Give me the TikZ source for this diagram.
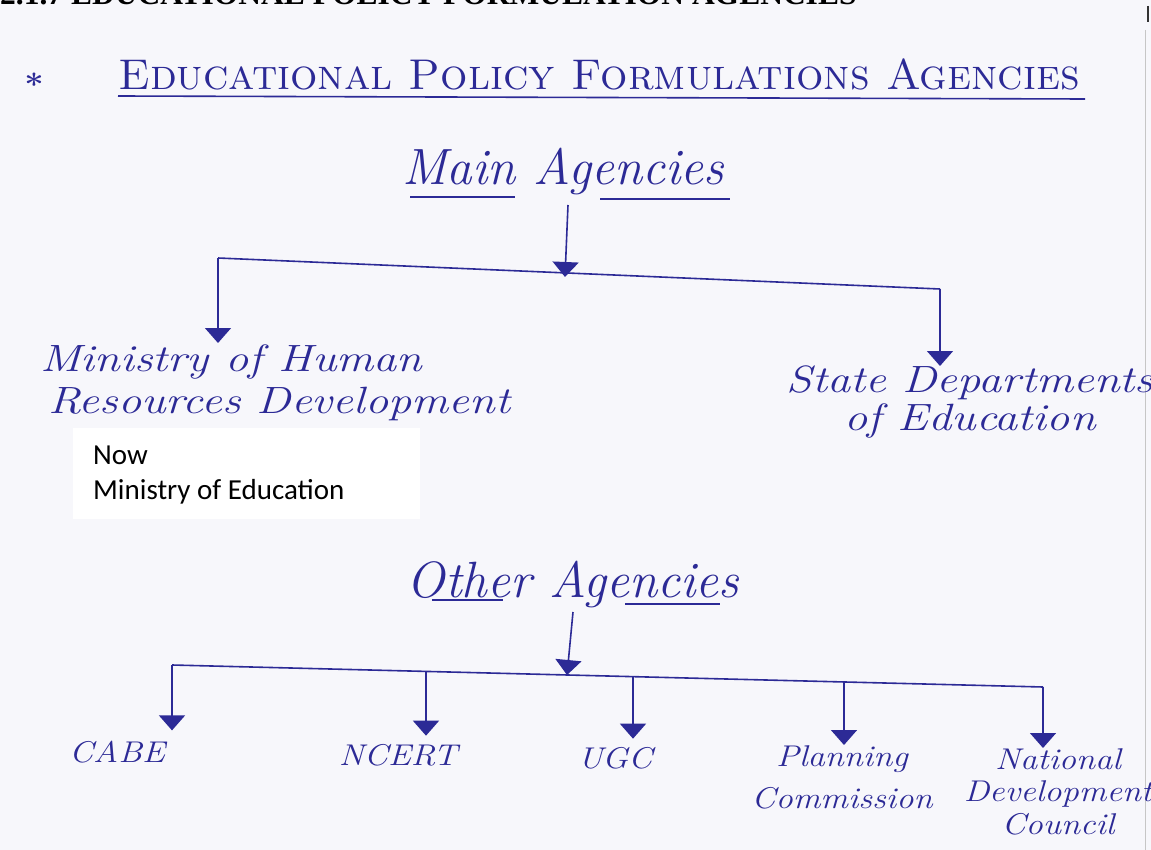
\documentclass[tikz,border=0pt]{standalone}
\usepackage{fontspec}
\newfontfamily\handface{Latin Modern Roman}
\newfontfamily\printfont{Liberation Serif}
\newfontfamily\boxfont{Carlito}
\usetikzlibrary{arrows.meta,positioning}
\definecolor{ink}{RGB}{44,42,150}
\definecolor{paper}{RGB}{247,247,251}
\newcommand\handfont[2]{\handface\itshape\fontsize{#1}{#1}\selectfont\addfontfeatures{FakeStretch=#2}\lineskiplimit=-60pt}

\begin{document}
\begin{tikzpicture}[x=1pt, y=-1pt,
    hand/.style={text=ink, inner sep=0pt, font=\handfont{30}{1.15}},
    label/.style={hand, font=\handfont{38}{1.22}},
    head/.style={hand, font=\handfont{51}{1.0}},
    wire/.style={draw=ink, line width=1.6pt},
    branch/.style={wire, -{Triangle[width=26pt,length=15pt]}}]
  \fill[paper] (0,0) rectangle (1151,850);
  \useasboundingbox (0,0) rectangle (1151,850);
  \clip (0,0) rectangle (1151,850);
  % cut heading of the page
  \node[anchor=base west, inner sep=0pt, font=\printfont\bfseries\fontsize{31.5}{32}\selectfont] (cut) at (0,5) {2.1.7 EDUCATIONAL POLICY FORMULATION AGENCIES};
  \draw[gray!45, line width=1pt] (1145,30) -- (1145,850);
  \draw[black!80, line width=2pt] (1148,6) -- (1148,22);
  % title
  \node[hand] (star) at (34,84) {\upshape\bfseries *};
  \node[hand, anchor=base west, font=\scshape\fontsize{43}{43}\selectfont] (title) at (118,90) {Educational Policy Formulations Agencies};
  \draw[wire] (118,96) -- (1085,99);
  % main agencies
  \node[head, anchor=base] (main) at (563,185) {Main Agencies};
  \draw[wire] (410,197) -- (515,197);
  \draw[wire] (600,199) -- (730,199);
  \coordinate (mtop) at (568,205);
  \coordinate (mL) at (218,258);
  \coordinate (mM) at (565,274);
  \coordinate (mR) at (940,289);
  \draw[wire] (mL) -- (mR);
  \draw[branch] (mtop) -- ([yshift=-3pt]mM);
  \node[label, anchor=north west, align=left] (mhrd) at (40,345) {Ministry of Human\\[4pt]\hspace{8pt}Resources Development};
  \node[label, anchor=north, align=center] (state) at (970,366) {State Departments\\of Education};
  \draw[branch, shorten >=2pt] (mL) -- (mL |- mhrd.north);
  \draw[branch] (mR) -- (mR |- state.north);
  % note box
  \fill[white] (73,428) rectangle (420,519);
  \node[anchor=north west, align=left, inner sep=0pt, font=\boxfont\fontsize{29}{35}\selectfont] (now) at (93,446) {Now\\Ministry of Education};
  % other agencies
  \node[head, anchor=base] (other) at (573,597) {Other Agencies};
  \draw[wire] (432,600) -- (503,600);
  \draw[wire] (625,604) -- (720,604);
  \coordinate (otop) at (573,612);
  \coordinate (o1) at (172,665);
  \coordinate (o2) at (426,671);
  \coordinate (o3) at (633,677);
  \coordinate (o4) at (844,682);
  \coordinate (o5) at (1043,687);
  \coordinate (oM) at (567,673);
  \draw[wire] (o1) -- (o5);
  \draw[branch] (otop) -- ([yshift=-2pt]oM);
  \node[hand, anchor=base] (cabe) at (117,762) {CABE};
  \node[hand, anchor=base] (ncert) at (398,765) {NCERT};
  \node[hand, anchor=base] (ugc) at (615,768) {UGC};
  \node[hand, anchor=north, align=center] (plan) at (842,745) {Planning\\[12pt]Commission};
  \node[hand, anchor=north, align=center] (ndc) at (1058,748) {National\\[2pt]Development\\[3pt]Council};
  \draw[branch, shorten >=10pt] (o1) -- (o1 |- cabe.north);
  \draw[branch, shorten >=8pt] (o2) -- (o2 |- ncert.north);
  \draw[branch, shorten >=8pt] (o3) -- (o3 |- ugc.north);
  \draw[branch] (o4) -- (o4 |- plan.north);
  \draw[branch] (o5) -- (o5 |- ndc.north);
\end{tikzpicture}
\end{document}
